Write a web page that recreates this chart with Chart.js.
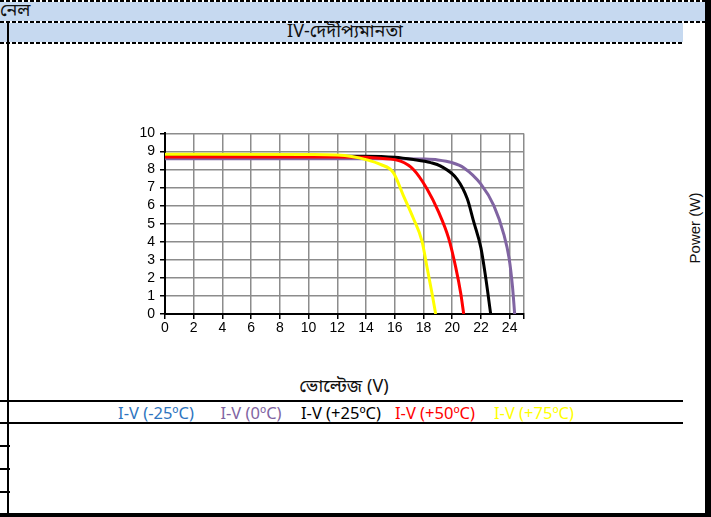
<!DOCTYPE html>
<html>
<head>
<meta charset="utf-8">
<script src="https://cdn.jsdelivr.net/npm/chart.js@4/dist/chart.umd.min.js"></script>
<style>
  html, body { margin: 0; padding: 0; background: #fff; }
  body { width: 711px; height: 517px; position: relative; overflow: hidden;
         font-family: "Noto Sans Bengali", "Noto Sans", "Open Sans", sans-serif; }
  .abs { position: absolute; }
  .dash { position: absolute; height: 2px;
          background: repeating-linear-gradient(to right, #000 0 4px, transparent 4px 6px); }
  .blk { position: absolute; background: #000; }
  .txt { position: absolute; white-space: nowrap; transform: translate(-50%, -50%); }
</style>
</head>
<body>
<!-- header rows -->
<div class="abs" style="left:0;top:2px;width:705px;height:19px;background:#c6d9f0;"></div>
<div class="abs" style="left:0;top:23px;width:683px;height:19px;background:#c6d9f0;"></div>
<div class="dash" style="left:0;top:0;width:705px;"></div>
<div class="dash" style="left:0;top:21px;width:705px;"></div>
<div class="dash" style="left:0;top:42px;width:683px;"></div>
<div class="abs" id="t1" style="left:0;top:0px;font-size:18px;line-height:22px;color:#111;">নেল</div>
<div class="txt" id="t2" style="left:345px;top:32px;font-size:18px;color:#111;">IV-দেদীপ্যমানতা</div>

<!-- frame lines -->
<div class="blk" style="left:7px;top:22px;width:2px;height:495px;"></div>
<div class="blk" style="left:705px;top:0;width:6px;height:517px;"></div>
<div class="blk" style="left:0;top:513px;width:711px;height:4px;"></div>
<div class="blk" style="left:0;top:400px;width:683px;height:2px;"></div>
<div class="blk" style="left:0;top:422px;width:683px;height:2px;"></div>
<div class="blk" style="left:0;top:445px;width:10px;height:2px;"></div>
<div class="blk" style="left:0;top:468px;width:10px;height:2px;"></div>
<div class="blk" style="left:0;top:491px;width:10px;height:2px;"></div>

<canvas id="c" width="430" height="216" class="abs" style="left:110px;top:120px;"></canvas>

<div class="txt" style="left:344px;top:387px;font-size:18px;color:#111;">ভোল্টেজ (V)</div>
<div class="txt" style="left:694px;top:228px;font-family:'Liberation Sans',Arial,sans-serif;font-size:15px;color:#111;transform:translate(-50%,-50%) rotate(-90deg);">Power (W)</div>
<div id="legend"></div>

<script>
// ---- data ----
const seriesNames = ["I-V (-25ºC)", "I-V (0ºC)", "I-V (+25ºC)", "I-V (+50ºC)", "I-V (+75ºC)"];
const seriesColors = ["#2e75c0", "#8064a2", "#000000", "#ff0000", "#ffff00"];

const voltM25 = [];
const currM25 = [];

const volt0 = [0, 16, 18, 19, 20, 20.8, 22, 22.9, 23.6, 23.96, 24.2, 24.35];
const curr0 = [8.6, 8.6, 8.58, 8.53, 8.38, 8.1, 7.19, 6.0, 4.4, 3.1, 1.5, 0];

const volt25 = [0, 14, 16, 17.3, 18.5, 19.2, 20.35, 21.05, 21.5, 22, 22.33, 22.68];
const curr25 = [8.75, 8.74, 8.68, 8.55, 8.38, 8.19, 7.46, 6.38, 5.1, 3.66, 2.03, 0];

const volt50 = [0, 12, 14, 15, 16.4, 17.3, 18.25, 19.05, 19.75, 20.25, 20.6, 20.8];
const curr50 = [8.7, 8.7, 8.68, 8.62, 8.46, 8.0, 6.92, 5.65, 4.2, 2.57, 1.12, 0];

const volt75 = [0, 10, 12, 13, 14, 15, 15.9, 16.6, 17.3, 17.9, 18.25, 18.6, 18.85];
const curr75 = [8.85, 8.83, 8.8, 8.72, 8.55, 8.28, 7.83, 6.56, 5.29, 4.02, 2.57, 1.12, 0];

const xTicks = [0, 2, 4, 6, 8, 10, 12, 14, 16, 18, 20, 22, 24];
const yTicks = [0, 1, 2, 3, 4, 5, 6, 7, 8, 9, 10];

const voltSets = [voltM25, volt0, volt25, volt50, volt75];
const currSets = [currM25, curr0, curr25, curr50, curr75];
const drawOrder = [4, 3, 2, 1, 0];

// ---- chart ----
const datasets = seriesNames.map((name, i) => ({
  label: name,
  data: voltSets[i].map((v, k) => ({ x: v, y: currSets[i][k] })),
  borderColor: seriesColors[i],
  backgroundColor: seriesColors[i],
  borderWidth: 3,
  pointRadius: 0,
  showLine: true,
  fill: false,
  cubicInterpolationMode: 'monotone',
  order: drawOrder[i]
}));

const tickFont = { family: "'Liberation Sans', Arial, sans-serif", size: 14 };

new Chart(document.getElementById('c'), {
  type: 'scatter',
  data: { datasets },
  options: {
    responsive: false,
    animation: false,
    devicePixelRatio: 1,
    layout: { padding: { top: 10, right: 16, left: 0, bottom: 0 } },
    plugins: { legend: { display: false }, tooltip: { enabled: false } },
    scales: {
      x: {
        type: 'linear', min: 0, max: 25,
        afterFit: s => { s.height = 22; },
        afterBuildTicks: s => { s.ticks = xTicks.concat([25]).map(v => ({ value: v })); },
        ticks: { color: '#000', font: tickFont, padding: 1, maxRotation: 0,
                 autoSkip: false, callback: v => (xTicks.includes(v) ? String(v) : '') },
        grid: { color: '#8c8c8c', lineWidth: 1.5, tickColor: '#000', tickLength: 5 },
        border: { color: '#000', width: 2 }
      },
      y: {
        type: 'linear', min: 0, max: 10,
        afterFit: s => { s.width = 55; },
        afterBuildTicks: s => { s.ticks = yTicks.map(v => ({ value: v })); },
        ticks: { color: '#000', font: tickFont, padding: 5, autoSkip: false },
        grid: { color: '#8c8c8c', lineWidth: 1.5, tickColor: '#000', tickLength: 5 },
        border: { color: '#000', width: 2 }
      }
    }
  }
});

// ---- legend (HTML text, coloured) ----
const legendX = [156, 251, 341, 435, 534];
const lg = document.getElementById('legend');
seriesNames.forEach((n, i) => {
  const d = document.createElement('div');
  d.className = 'txt';
  d.style.left = legendX[i] + 'px';
  d.style.top = '412px';
  d.style.fontSize = '16.5px';
  d.style.fontFamily = "'Noto Sans', 'Open Sans', sans-serif";
  d.style.color = seriesColors[i];
  d.textContent = n;
  lg.appendChild(d);
});
</script>
</body>
</html>
